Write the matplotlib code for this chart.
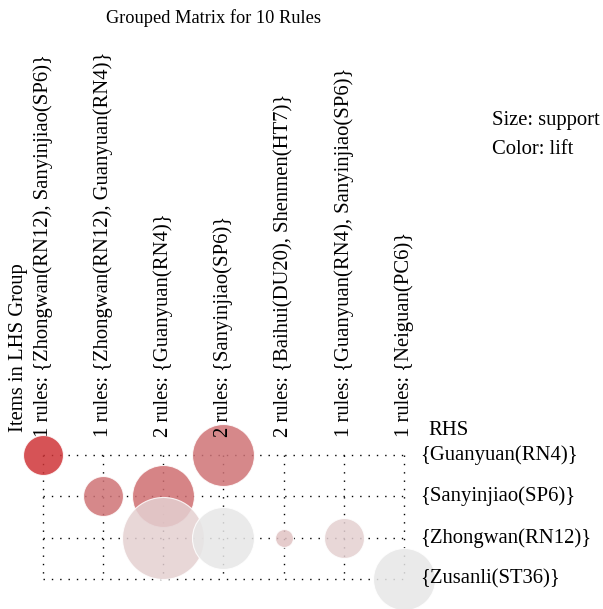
import matplotlib
matplotlib.use("Agg")
import matplotlib.pyplot as plt
from matplotlib.colors import LinearSegmentedColormap, Normalize

plt.rcParams['font.family'] = ['Liberation Serif', 'DejaVu Serif']

# LHS groups (columns) and RHS items (rows)
lhs_labels = [
    "1 rules: {Zhongwan(RN12), Sanyinjiao(SP6)}",
    "1 rules: {Zhongwan(RN12), Guanyuan(RN4)}",
    "2 rules: {Guanyuan(RN4)}",
    "2 rules: {Sanyinjiao(SP6)}",
    "2 rules: {Baihui(DU20), Shenmen(HT7)}",
    "1 rules: {Guanyuan(RN4), Sanyinjiao(SP6)}",
    "1 rules: {Neiguan(PC6)}",
]
rhs_labels = [
    "{Guanyuan(RN4)}",
    "{Sanyinjiao(SP6)}",
    "{Zhongwan(RN12)}",
    "{Zusanli(ST36)}",
]

# one entry per bubble: column (LHS group), row (RHS), support, lift
cell_col = [0, 3, 1, 2, 2, 3, 4, 5, 6]
cell_row = [0, 0, 1, 1, 2, 2, 2, 2, 3]
support = [0.100, 0.155, 0.100, 0.155, 0.205, 0.155, 0.045, 0.100, 0.155]
lift = [2.00, 1.62, 1.62, 1.65, 1.18, 1.00, 1.25, 1.18, 1.00]

# colour scale for lift, light grey -> red
lift_cmap = LinearSegmentedColormap.from_list(
    "lift", [(0.0, "#e7e7e7"), (0.2, "#e4cecf"), (0.62, "#cf7376"), (1.0, "#cf3538")])
norm = Normalize(vmin=1.0, vmax=2.0)

fig = plt.figure(figsize=(6.03, 6.09), dpi=100)
W, H = 603.0, 609.0
# axes placed so that column i / row j land on the reference pixel grid
ax = fig.add_axes([12.9 / W, 1 - 599.7 / H, 421.2 / W, 165.3 / H])
ax.set_xlim(-0.5, 6.5)
ax.set_ylim(3.5, -0.5)
ax.axis("off")

ncol = len(lhs_labels)
nrow = len(rhs_labels)
fs = 14.9

# dotted grid
for r in range(nrow):
    ax.plot([0, ncol - 1], [r, r], color="black", lw=1.0, ls=(0, (1, 5)), zorder=1)
for c in range(ncol):
    ax.plot([c, c], [0, nrow - 1], color="black", lw=1.0, ls=(0, (1, 5)), zorder=1)

# bubbles: radius (px) ~ 200 * support -> marker area in pt^2
sizes = [(2 * 200 * s * 0.72) ** 2 for s in support]
for i in range(len(cell_col)):
    ax.scatter(cell_col[i], cell_row[i], s=sizes[i], color=lift_cmap(norm(lift[i])),
               alpha=0.85, edgecolors="white", linewidths=0.8, zorder=2 + i, clip_on=False)

# LHS group labels
for c, lab in enumerate(lhs_labels):
    ax.text(c, -0.43, lab, rotation=90, ha="center", va="bottom", fontsize=fs, zorder=20)
ax.text(-0.415, -0.55, "Items in LHS Group", rotation=90, ha="center", va="bottom",
        fontsize=fs, zorder=20)

# RHS labels
for r, lab in enumerate(rhs_labels):
    ax.text(6.27, r, lab, ha="left", va="center", fontsize=fs, zorder=20)
ax.text(6.40, -0.6, "RHS", ha="left", va="center", fontsize=fs, zorder=20)

fig.text(214 / W, 1 - 18 / H, "Grouped Matrix for 10 Rules", ha="center", va="center", fontsize=13.2)
fig.text(492 / W, 1 - 120 / H, "Size: support", ha="left", va="center", fontsize=fs)
fig.text(492 / W, 1 - 150 / H, "Color: lift", ha="left", va="center", fontsize=fs)

fig.savefig("out.png", dpi=100)
